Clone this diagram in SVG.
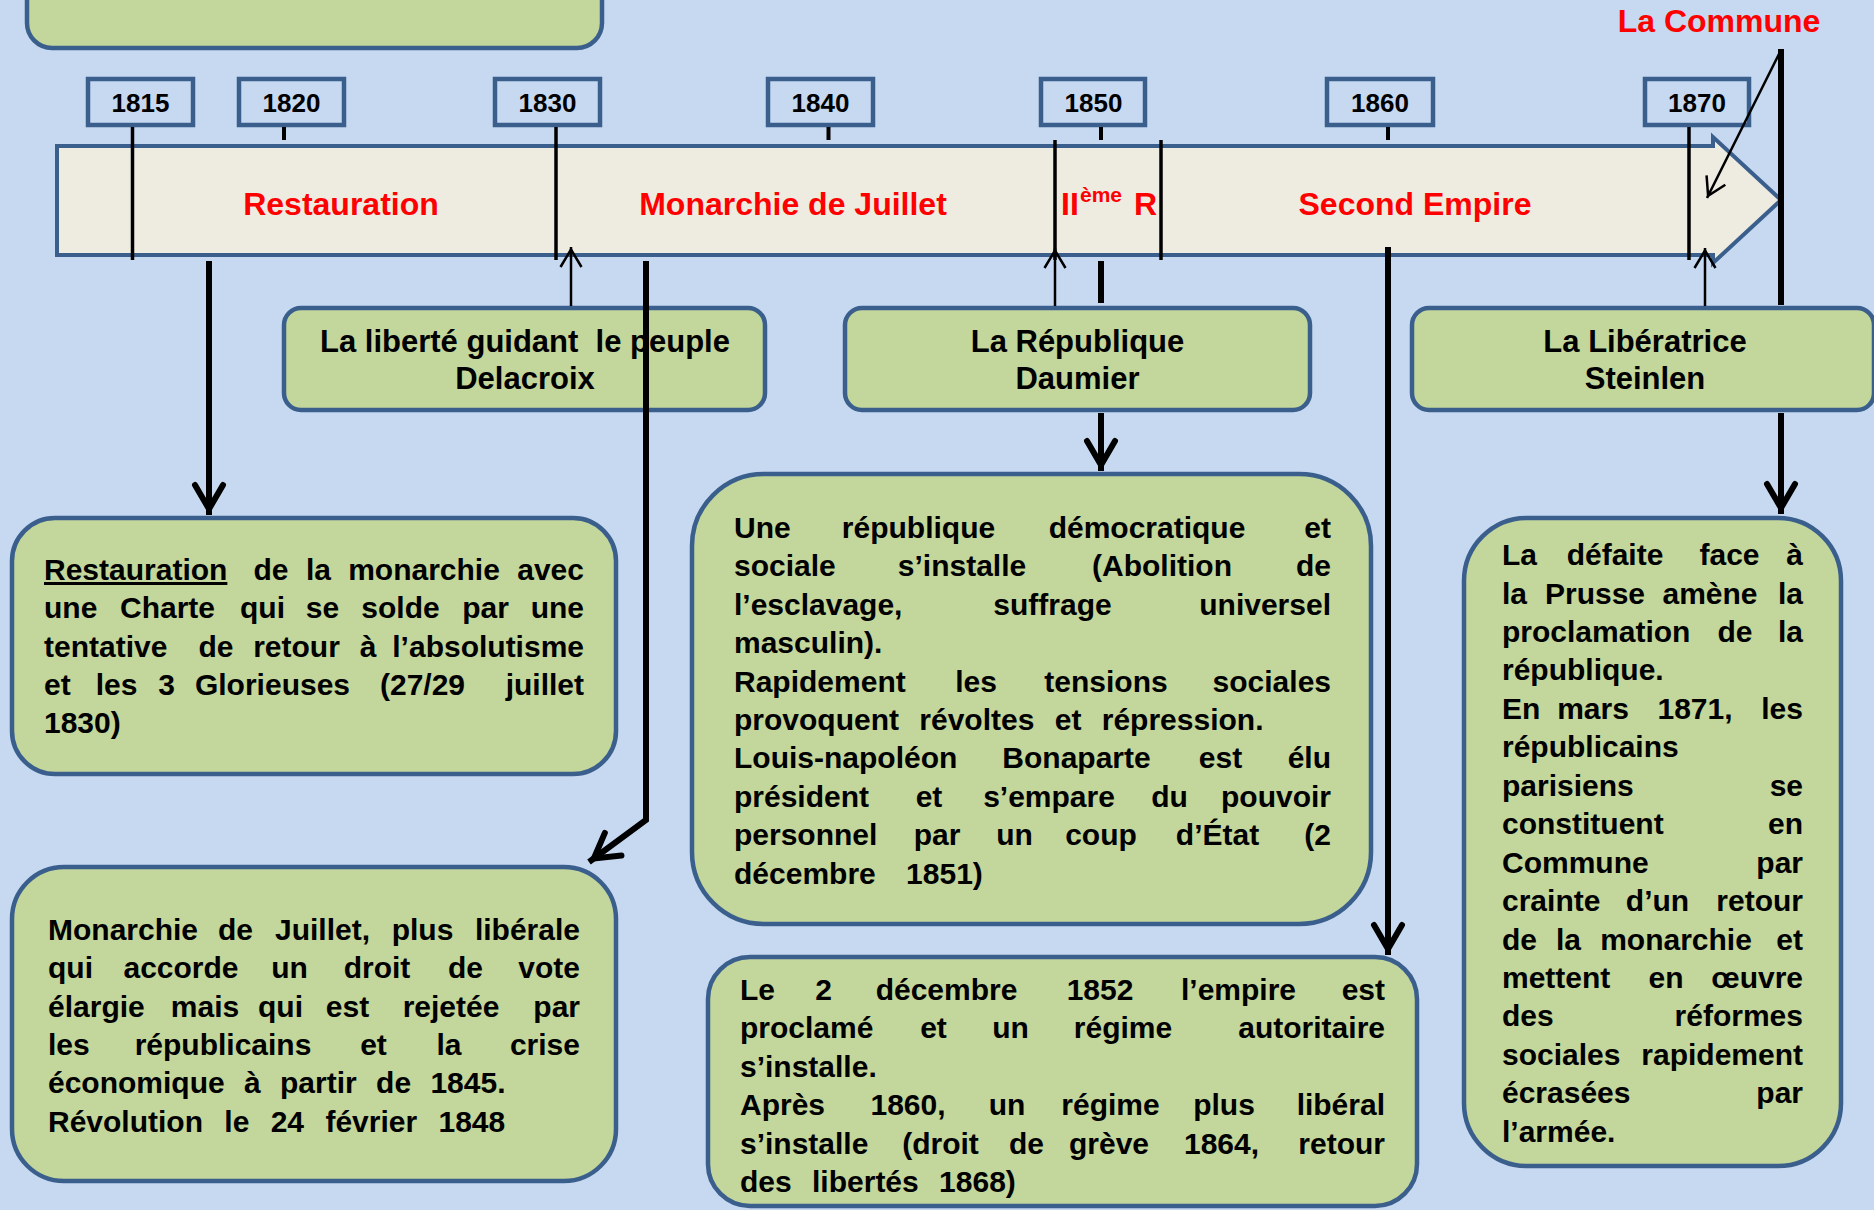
<svg xmlns="http://www.w3.org/2000/svg" width="1874" height="1210" viewBox="0 0 1874 1210">
<style>
.nd{fill:#c3d69b;stroke:#3b5f8c;stroke-width:4.5}
.yb{fill:#c6d9f1;stroke:#3b5f8c;stroke-width:4.5}
.t{font-family:"Liberation Sans",Arial,sans-serif;font-weight:bold;font-size:30px;fill:#000}
.e{text-anchor:end}
.m{text-anchor:middle}
.lb{font-family:"Liberation Sans",Arial,sans-serif;font-weight:bold;font-size:31px;fill:#000;text-anchor:middle}
.era{font-family:"Liberation Sans",Arial,sans-serif;font-weight:bold;font-size:32px;fill:#ff0000;text-anchor:middle}
.yt{font-family:"Liberation Sans",Arial,sans-serif;font-weight:bold;font-size:26px;fill:#000;text-anchor:middle}
.thick{stroke:#000;stroke-width:6;fill:none}
.thin{stroke:#000;stroke-width:2.5;fill:none}
.mk{stroke:#000;stroke-width:3.5;fill:none}
.tk{stroke:#000;stroke-width:4;fill:none}
</style>
<defs>
<marker id="ah" markerUnits="userSpaceOnUse" viewBox="-34 -20 40 40" refX="0" refY="0" markerWidth="40" markerHeight="40" orient="auto">
<path d="M-30,-14 L-6,0 L-30,14" fill="none" stroke="#000" stroke-width="6" stroke-linecap="round"/>
</marker>
<marker id="ahs" markerUnits="userSpaceOnUse" viewBox="-24 -14 28 28" refX="0" refY="0" markerWidth="28" markerHeight="28" orient="auto">
<path d="M-20,-10.5 L-2.5,0 L-20,10.5" fill="none" stroke="#000" stroke-width="2.5"/>
</marker>
</defs>
<rect width="1874" height="1210" fill="#c6d9f1"/>
<g id="top-box"><rect class="nd" x="27" y="-60" width="575" height="108" rx="25"/></g>
<g id="years">
<g id="y1815"><rect class="yb" x="88" y="79" width="105" height="46"/><text class="yt" x="140.5" y="112">1815</text></g>
<g id="y1820"><rect class="yb" x="239" y="79" width="105" height="46"/><text class="yt" x="291.5" y="112">1820</text></g>
<g id="y1830"><rect class="yb" x="495" y="79" width="105" height="46"/><text class="yt" x="547.5" y="112">1830</text></g>
<g id="y1840"><rect class="yb" x="768" y="79" width="105" height="46"/><text class="yt" x="820.5" y="112">1840</text></g>
<g id="y1850"><rect class="yb" x="1041" y="79" width="104" height="46"/><text class="yt" x="1093.5" y="112">1850</text></g>
<g id="y1860"><rect class="yb" x="1327" y="79" width="106" height="46"/><text class="yt" x="1380" y="112">1860</text></g>
<g id="y1870"><rect class="yb" x="1645" y="79" width="104" height="46"/><text class="yt" x="1697" y="112">1870</text></g>
</g>
<g id="timeline">
<path d="M57,146 L1713,146 L1713,137 L1781,200 L1713,263 L1713,255 L57,255 Z" fill="#eeece1" stroke="#3b5f8c" stroke-width="4"/>
<text class="era" x="341" y="215">Restauration</text>
<text class="era" x="793" y="215">Monarchie de Juillet</text>
<text class="era" x="1415" y="215">Second Empire</text>
<text class="era" style="text-anchor:start" x="1061" y="215">II<tspan x="1080" dy="-13" font-size="21">ème</tspan><tspan x="1134" dy="13">R</tspan></text>
</g>
<g id="la-commune-label"><text class="era" x="1719" y="32">La Commune</text></g>
<g id="ticks">
<line class="tk" x1="284" y1="127" x2="284" y2="140"/>
<line class="tk" x1="828.5" y1="127" x2="828.5" y2="140"/>
<line class="tk" x1="1101" y1="127" x2="1101" y2="140"/>
<line class="tk" x1="1388" y1="127" x2="1388" y2="140"/>
<line class="mk" x1="132.5" y1="127" x2="132.5" y2="260"/>
<line class="mk" x1="556" y1="127" x2="556" y2="260"/>
<line class="mk" x1="1055" y1="140" x2="1055" y2="260"/>
<line class="mk" x1="1161" y1="140" x2="1161" y2="260"/>
<line class="mk" x1="1689" y1="127" x2="1689" y2="260"/>
</g>
<g id="delacroix"><rect class="nd" x="284" y="308" width="481" height="102" rx="17"/>
<text class="lb" x="525" y="352" xml:space="preserve">La liberté guidant  le peuple</text><text class="lb" x="525" y="389">Delacroix</text></g>
<g id="daumier"><rect class="nd" x="845" y="308" width="465" height="102" rx="17"/>
<text class="lb" x="1077.5" y="352">La République</text><text class="lb" x="1077.5" y="389">Daumier</text></g>
<g id="steinlen"><rect class="nd" x="1412" y="308" width="462" height="102" rx="17"/>
<text class="lb" x="1645" y="352">La Libératrice</text><text class="lb" x="1645" y="389">Steinlen</text></g>
<g id="restauration-box"><rect class="nd" x="12" y="518" width="604" height="256" rx="43"/>
<text class="t" y="580"><tspan x="44" text-decoration="underline">Restauration</tspan><tspan class="m" x="271">de</tspan><tspan class="m" x="318.5">la</tspan><tspan class="m" x="424">monarchie</tspan><tspan class="e" x="584">avec</tspan></text>
<text class="t" y="618.3"><tspan x="44">une</tspan><tspan class="m" x="167.5">Charte</tspan><tspan class="m" x="262.5">qui</tspan><tspan class="m" x="322.5">se</tspan><tspan class="m" x="400.5">solde</tspan><tspan class="m" x="485.5">par</tspan><tspan class="e" x="584">une</tspan></text>
<text class="t" y="656.6"><tspan x="44">tentative</tspan><tspan class="m" x="216">de</tspan><tspan class="m" x="296.5">retour</tspan><tspan class="m" x="368">à</tspan><tspan class="e" x="584">l’absolutisme</tspan></text>
<text class="t" y="694.9"><tspan x="44">et</tspan><tspan class="m" x="116.5">les</tspan><tspan class="m" x="166.5">3</tspan><tspan class="m" x="272.5">Glorieuses</tspan><tspan class="m" x="422.5">(27/29</tspan><tspan class="e" x="584">juillet</tspan></text>
<text class="t" x="44" y="733.2">1830)</text>
</g>
<g id="monarchie-box"><rect class="nd" x="12" y="867" width="604" height="314" rx="52"/>
<text class="t" y="940"><tspan x="48">Monarchie</tspan><tspan class="m" x="235.5">de</tspan><tspan class="m" x="322.5">Juillet,</tspan><tspan class="m" x="422.5">plus</tspan><tspan class="e" x="580">libérale</tspan></text>
<text class="t" y="978.3"><tspan x="48">qui</tspan><tspan class="m" x="181">accorde</tspan><tspan class="m" x="289.5">un</tspan><tspan class="m" x="377">droit</tspan><tspan class="m" x="465.5">de</tspan><tspan class="e" x="580">vote</tspan></text>
<text class="t" y="1016.6"><tspan x="48">élargie</tspan><tspan class="m" x="205">mais</tspan><tspan class="m" x="280.5">qui</tspan><tspan class="m" x="347.5">est</tspan><tspan class="m" x="451">rejetée</tspan><tspan class="e" x="580">par</tspan></text>
<text class="t" y="1054.9"><tspan x="48">les</tspan><tspan class="m" x="223">républicains</tspan><tspan class="m" x="373.5">et</tspan><tspan class="m" x="449">la</tspan><tspan class="e" x="580">crise</tspan></text>
<text class="t" x="48" y="1093.2" word-spacing="11">économique à partir de 1845.</text>
<text class="t" x="48" y="1131.5" word-spacing="13">Révolution le 24 février 1848</text>
</g>
<g id="republique-box"><rect class="nd" x="692" y="474" width="679" height="450" rx="72"/>
<text class="t" y="538"><tspan x="734">Une</tspan><tspan class="m" x="918.5">république</tspan><tspan class="m" x="1147">démocratique</tspan><tspan class="e" x="1331">et</tspan></text>
<text class="t" y="576.4"><tspan x="734">sociale</tspan><tspan class="m" x="962">s’installe</tspan><tspan class="m" x="1162">(Abolition</tspan><tspan class="e" x="1331">de</tspan></text>
<text class="t" y="614.8"><tspan x="734">l’esclavage,</tspan><tspan class="m" x="1052.5">suffrage</tspan><tspan class="e" x="1331">universel</tspan></text>
<text class="t" x="734" y="653.2">masculin).</text>
<text class="t" y="691.6"><tspan x="734">Rapidement</tspan><tspan class="m" x="976">les</tspan><tspan class="m" x="1106">tensions</tspan><tspan class="e" x="1331">sociales</tspan></text>
<text class="t" x="734" y="730" word-spacing="12">provoquent révoltes et répression.</text>
<text class="t" y="768.4"><tspan x="734">Louis-napoléon</tspan><tspan class="m" x="1076.5">Bonaparte</tspan><tspan class="m" x="1220.5">est</tspan><tspan class="e" x="1331">élu</tspan></text>
<text class="t" y="806.8"><tspan x="734">président</tspan><tspan class="m" x="929">et</tspan><tspan class="m" x="1049">s’empare</tspan><tspan class="m" x="1169.5">du</tspan><tspan class="e" x="1331">pouvoir</tspan></text>
<text class="t" y="845.2"><tspan x="734">personnel</tspan><tspan class="m" x="937">par</tspan><tspan class="m" x="1014.5">un</tspan><tspan class="m" x="1101">coup</tspan><tspan class="m" x="1217.5">d’État</tspan><tspan class="e" x="1331">(2</tspan></text>
<text class="t" x="734" y="883.6" word-spacing="22">décembre 1851)</text>
</g>
<g id="empire-box"><rect class="nd" x="708" y="957" width="709" height="249" rx="42"/>
<text class="t" y="1000"><tspan x="740">Le</tspan><tspan class="m" x="823.5">2</tspan><tspan class="m" x="946.5">décembre</tspan><tspan class="m" x="1100">1852</tspan><tspan class="m" x="1238.5">l’empire</tspan><tspan class="e" x="1385">est</tspan></text>
<text class="t" y="1038.4"><tspan x="740">proclamé</tspan><tspan class="m" x="933.5">et</tspan><tspan class="m" x="1010.5">un</tspan><tspan class="m" x="1123">régime</tspan><tspan class="e" x="1385">autoritaire</tspan></text>
<text class="t" x="740" y="1076.8">s’installe.</text>
<text class="t" y="1115.2"><tspan x="740">Après</tspan><tspan class="m" x="908">1860,</tspan><tspan class="m" x="1007">un</tspan><tspan class="m" x="1110.5">régime</tspan><tspan class="m" x="1224">plus</tspan><tspan class="e" x="1385">libéral</tspan></text>
<text class="t" y="1153.6"><tspan x="740">s’installe</tspan><tspan class="m" x="940.5">(droit</tspan><tspan class="m" x="1026.5">de</tspan><tspan class="m" x="1109">grève</tspan><tspan class="m" x="1221.5">1864,</tspan><tspan class="e" x="1385">retour</tspan></text>
<text class="t" x="740" y="1192" word-spacing="12">des libertés 1868)</text>
</g>
<g id="commune-box"><rect class="nd" x="1464" y="518" width="377" height="648" rx="63"/>
<text class="t" y="565"><tspan x="1502">La</tspan><tspan class="m" x="1615">défaite</tspan><tspan class="m" x="1729.5">face</tspan><tspan class="e" x="1803">à</tspan></text>
<text class="t" y="603.5"><tspan x="1502">la</tspan><tspan class="m" x="1595">Prusse</tspan><tspan class="m" x="1710">amène</tspan><tspan class="e" x="1803">la</tspan></text>
<text class="t" y="641.9"><tspan x="1502">proclamation</tspan><tspan class="m" x="1735">de</tspan><tspan class="e" x="1803">la</tspan></text>
<text class="t" x="1502" y="680.4">république.</text>
<text class="t" y="718.8"><tspan x="1502">En</tspan><tspan class="m" x="1593">mars</tspan><tspan class="m" x="1695">1871,</tspan><tspan class="e" x="1803">les</tspan></text>
<text class="t" x="1502" y="757.3">républicains</text>
<text class="t" y="795.7"><tspan x="1502">parisiens</tspan><tspan class="e" x="1803">se</tspan></text>
<text class="t" y="834.2"><tspan x="1502">constituent</tspan><tspan class="e" x="1803">en</tspan></text>
<text class="t" y="872.6"><tspan x="1502">Commune</tspan><tspan class="e" x="1803">par</tspan></text>
<text class="t" y="911.1"><tspan x="1502">crainte</tspan><tspan class="m" x="1657.5">d’un</tspan><tspan class="e" x="1803">retour</tspan></text>
<text class="t" y="949.5"><tspan x="1502">de</tspan><tspan class="m" x="1568.5">la</tspan><tspan class="m" x="1676">monarchie</tspan><tspan class="e" x="1803">et</tspan></text>
<text class="t" y="988"><tspan x="1502">mettent</tspan><tspan class="m" x="1666">en</tspan><tspan class="e" x="1803">œuvre</tspan></text>
<text class="t" y="1026.4"><tspan x="1502">des</tspan><tspan class="e" x="1803">réformes</tspan></text>
<text class="t" y="1064.9"><tspan x="1502">sociales</tspan><tspan class="e" x="1803">rapidement</tspan></text>
<text class="t" y="1103.3"><tspan x="1502">écrasées</tspan><tspan class="e" x="1803">par</tspan></text>
<text class="t" x="1502" y="1141.8">l’armée.</text>
</g>
<g id="connectors">
<path class="thick" d="M209,261 L209,515" marker-end="url(#ah)"/>
<path class="thick" d="M646,261 L646,820 L589,862" marker-end="url(#ah)"/>
<path class="thick" d="M1101,261 L1101,303"/>
<path class="thick" d="M1101,413 L1101,471" marker-end="url(#ah)"/>
<path class="thick" d="M1388,247 L1388,955" marker-end="url(#ah)"/>
<path class="thick" d="M1781,49 L1781,305"/>
<path class="thick" d="M1781,413 L1781,514" marker-end="url(#ah)"/>
<path class="thin" d="M571,306 L571,247" marker-end="url(#ahs)"/>
<path class="thin" d="M1055,306 L1055,248" marker-end="url(#ahs)"/>
<path class="thin" d="M1705,306 L1705,248" marker-end="url(#ahs)"/>
<path class="thin" d="M1781,50 L1707,198" marker-end="url(#ahs)"/>
</g>
</svg>
